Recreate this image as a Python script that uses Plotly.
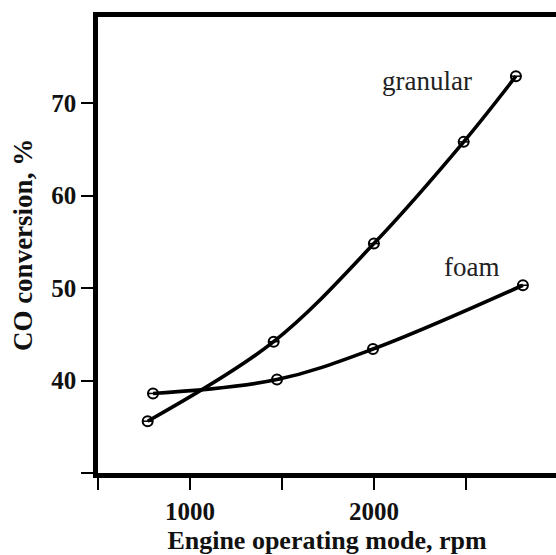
import plotly.graph_objects as go

granular_rpm = [770, 1455, 2000, 2488, 2772]
granular_co = [35.6, 44.2, 54.8, 65.8, 72.9]
foam_rpm = [799, 1473, 1995, 2810]
foam_co = [38.6, 40.1, 43.4, 50.3]

x_tickvals = [500, 1000, 1500, 2000, 2500]
x_ticktext = ["", "1000", "", "2000", ""]
y_tickvals = [30, 40, 50, 60, 70]
y_ticktext = ["", "40", "50", "60", "70"]

line_style = dict(color="black", width=3.6, shape="spline", smoothing=1.0)
marker_style = dict(symbol="circle-open", size=10, color="black", line=dict(width=2, color="black"))
bar_style = dict(symbol="line-ew-open", size=8, color="black", line=dict(width=1.5, color="black"))

fig = go.Figure()
for xs, ys, nm in [(granular_rpm, granular_co, "granular"), (foam_rpm, foam_co, "foam")]:
    fig.add_trace(go.Scatter(x=xs, y=ys, mode="lines+markers",
                             line=line_style, marker=marker_style, name=nm))
    fig.add_trace(go.Scatter(x=xs, y=ys, mode="markers", marker=bar_style,
                             name=nm, hoverinfo="skip"))

fig.add_annotation(x=2289, y=72.4, text="granular", showarrow=False,
                   font=dict(family="Liberation Serif", size=27, color="#222"))
fig.add_annotation(x=2533, y=52.3, text="foam", showarrow=False,
                   font=dict(family="Liberation Serif", size=27, color="#222"))

fig.update_layout(
    width=556, height=555,
    margin=dict(l=98, r=0, t=17, b=82),
    paper_bgcolor="white", plot_bgcolor="white",
    showlegend=False,
    font=dict(family="Liberation Serif", color="#111"),
)
fig.update_xaxes(
    range=[500, 2990], tickvals=x_tickvals, ticktext=x_ticktext,
    showgrid=False, zeroline=False, automargin=False,
    showline=True, linecolor="black", linewidth=4.5, mirror=True,
    ticks="outside", ticklen=12, tickwidth=2, tickcolor="black",
    ticklabelstandoff=0,
    tickfont=dict(family="Liberation Serif", size=25, color="#111", weight="bold"),
    title=dict(text="<b>Engine operating mode, rpm</b>", standoff=10,
               font=dict(family="Liberation Serif", size=26, color="#111")),
)
fig.update_yaxes(
    range=[30, 79.3], tickvals=y_tickvals, ticktext=y_ticktext,
    showgrid=False, zeroline=False, automargin=False,
    showline=True, linecolor="black", linewidth=4.5,
    ticks="outside", ticklen=12, tickwidth=2, tickcolor="black",
    ticklabelstandoff=0,
    tickfont=dict(family="Liberation Serif", size=25, color="#111", weight="bold"),
    title=dict(text="<b>CO conversion, %</b>", standoff=12,
               font=dict(family="Liberation Serif", size=27, color="#111")),
)

fig.write_html("out.html", config={"displayModeBar": False},
               post_script="document.body.style.margin='0';document.body.style.overflow='hidden';")
